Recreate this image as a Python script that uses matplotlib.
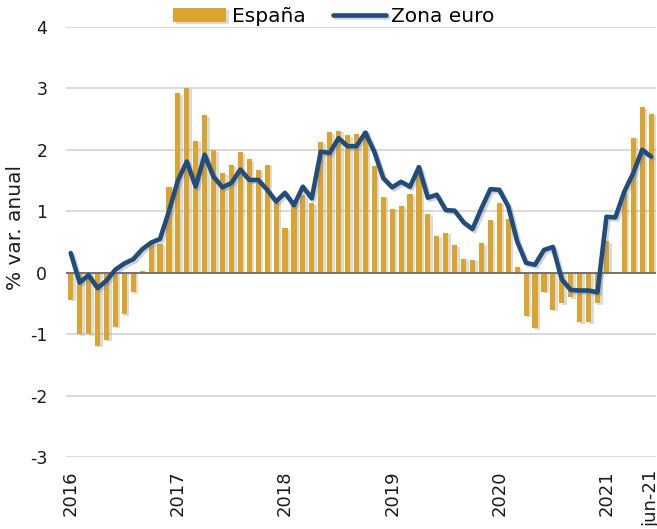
import matplotlib
matplotlib.use("Agg")
import matplotlib.pyplot as plt
import matplotlib.patheffects as pe
import numpy as np
import pandas as pd

# Monthly categories Jan-2016 .. Jun-2021
months = pd.date_range("2016-01-01", "2021-06-01", freq="MS")

espana = [
    -0.44, -1.00, -1.00, -1.19, -1.09, -0.88, -0.67, -0.32, 0.03, 0.48, 0.47, 1.40,
    2.92, 3.01, 2.15, 2.57, 1.99, 1.62, 1.75, 1.96, 1.85, 1.68, 1.76, 1.16,
    0.72, 1.18, 1.27, 1.13, 2.12, 2.29, 2.31, 2.24, 2.26, 2.31, 1.74, 1.24,
    1.04, 1.09, 1.28, 1.63, 0.96, 0.60, 0.65, 0.45, 0.23, 0.21, 0.48, 0.86,
    1.14, 0.88, 0.09, -0.70, -0.90, -0.31, -0.60, -0.50, -0.40, -0.81, -0.81, -0.50,
    0.51, 0.00, 1.30, 2.20, 2.70, 2.59,
]

zona_euro = [
    0.32, -0.16, -0.04, -0.25, -0.13, 0.05, 0.15, 0.22, 0.38, 0.49, 0.55, 1.00,
    1.50, 1.81, 1.40, 1.92, 1.56, 1.39, 1.46, 1.68, 1.51, 1.51, 1.35, 1.16,
    1.30, 1.10, 1.40, 1.21, 1.97, 1.95, 2.19, 2.06, 2.06, 2.28, 1.97, 1.54,
    1.39, 1.48, 1.40, 1.72, 1.22, 1.27, 1.02, 1.01, 0.82, 0.71, 1.05, 1.36,
    1.35, 1.08, 0.51, 0.16, 0.13, 0.37, 0.42, -0.11, -0.28, -0.29, -0.29, -0.32,
    0.91, 0.90, 1.32, 1.62, 2.00, 1.89,
]

tick_pos = [0, 12, 24, 36, 48, 60, 65]
tick_labels = ["2016", "2017", "2018", "2019", "2020", "2021", "jun-21"]
y_ticks = [-3, -2, -1, 0, 1, 2, 3, 4]

bar_color = "#DBA42F"
line_color = "#204D7E"

W, H = 657, 529
fig = plt.figure(figsize=(W / 100, H / 100), dpi=100)
ax = fig.add_axes([66 / W, 1 - 457 / H, 590 / W, 430 / H])

x = np.arange(len(months))
bars = ax.bar(x, espana, width=0.58, color=bar_color, zorder=3, label="España")
for b in bars:
    b.set_path_effects([pe.SimplePatchShadow(offset=(1.8, -1.2), shadow_rgbFace="#9a9a9a", alpha=0.35), pe.Normal()])

ln, = ax.plot(x, zona_euro, color=line_color, lw=3.3, solid_joinstyle="round",
              solid_capstyle="round", zorder=5, label="Zona euro")
ln.set_path_effects([pe.SimpleLineShadow(offset=(1.5, -1.5), shadow_color="#808080", alpha=0.35), pe.Normal()])

ax.axhline(0, color="#77706a", lw=1.4, zorder=4)

ax.set_xlim(-0.53, 65.55)
ax.set_ylim(-3, 4)
ax.set_yticks(y_ticks)
ax.set_yticklabels([str(v) for v in y_ticks])
ax.yaxis.grid(True, color="#d9d9d9", lw=1.4, zorder=0)
ax.set_axisbelow(True)
for s in ax.spines.values():
    s.set_visible(False)

ax.set_xticks(tick_pos)
ax.set_xticklabels(tick_labels, rotation=90, fontsize=13, color="#1a1a1a")
ax.tick_params(axis="x", length=0, pad=9.5)
ax.tick_params(axis="y", length=0, pad=13.5, labelsize=12.5, labelcolor="#1a1a1a")

fig.text(16 / W, 1 - 228 / H, "% var. anual", rotation=90, ha="center", va="center",
         fontsize=14.5, color="#1a1a1a")

fig.legend(handles=[bars, ln], labels=["España", "Zona euro"], loc="center",
           bbox_to_anchor=(334 / W, 1 - 16.5 / H), ncol=2, frameon=False,
           fontsize=14.5, handlelength=2.64, handletextpad=0.27, columnspacing=1.35,
           borderpad=0, borderaxespad=0)

fig.savefig("out.png", dpi=100)
